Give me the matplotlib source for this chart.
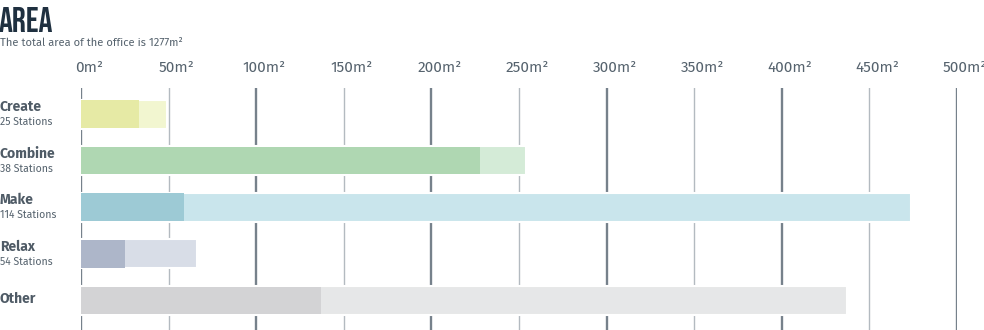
import matplotlib
matplotlib.use("Agg")
import matplotlib.pyplot as plt
from matplotlib import font_manager
import matplotlib.transforms as mtransforms

categories = ["Create", "Combine", "Make", "Relax", "Other"]
stations = ["25 Stations", "38 Stations", "114 Stations", "54 Stations", ""]
used_area = [33, 228, 59, 25, 137]
total_area = [49, 254, 474, 66, 437]
ticks = [0, 50, 100, 150, 200, 250, 300, 350, 400, 450, 500]
tick_labels = [f"{t}m\u00b2" for t in ticks]

dark_colors = ["#e6eaa5", "#afd7b2", "#9dcad5", "#adb6c9", "#d3d3d5"]
light_colors = ["#f2f6d0", "#d4ebd7", "#c9e5ec", "#d8dde7", "#e6e7e8"]

fonts = font_manager.fontManager.ttflist
names = {f.name for f in fonts}
body_font = "Fira Sans" if "Fira Sans" in names else "Open Sans"

title_font = "DejaVu Sans"
title_stretch = "condensed"
for cand in ["Bebas Neue", "Oswald", "Fira Sans Extra Condensed", "Fira Sans Condensed",
             "Roboto Condensed", "Liberation Sans Narrow", "Open Sans Condensed",
             "Noto Sans Display"]:
    if cand in names:
        title_font = cand
        title_stretch = "normal"
        break
else:
    for f in fonts:
        if "ondensed" in f.name or "arrow" in f.name:
            title_font = f.name
            title_stretch = "normal"
            break

W, H = 984, 330
fig = plt.figure(figsize=(W / 100, H / 100), dpi=100)
x0, x1 = 81, 957
ytop, ybot = 88, 330
ax = fig.add_axes([x0 / W, 1 - ybot / H, (x1 - x0) / W, (ybot - ytop) / H])

step = 46.6
c0 = 114
ax.set_xlim(0, 500)
ax.set_ylim((ybot - c0) / step, (ytop - c0) / step)
for s in ax.spines.values():
    s.set_visible(False)
ax.set_xticks([])
ax.set_yticks([])

for t in ticks:
    major = (t % 100 == 0)
    ax.axvline(t, color="#76818b" if major else "#b3bac0",
               lw=1.7 if major else 1.0, zorder=1)

ypos = list(range(len(categories)))
bh = 29 / step
ax.barh(ypos, total_area, height=bh, color=light_colors,
        edgecolor="white", linewidth=1.5, zorder=2)
ax.barh(ypos, used_area, height=bh - 0.03, color=dark_colors,
        linewidth=0, zorder=3)

# tick labels on top
trans = mtransforms.blended_transform_factory(ax.transData, fig.transFigure)
for t, lab in zip(ticks, tick_labels):
    ax.text(t + 8 / 1.752, 1 - 68 / H, lab, transform=trans, ha="center",
            va="center", fontsize=11, color="#56636e", family=body_font,
            clip_on=False)

# row labels
for i, (cat, st) in enumerate(zip(categories, stations)):
    yc = c0 + i * step
    if st:
        fig.text(0, 1 - (yc - 7) / H, cat, ha="left", va="center",
                 fontsize=10, fontweight="bold", color="#4f5b66", family=body_font)
        fig.text(0, 1 - (yc + 8) / H, st, ha="left", va="center",
                 fontsize=7.5, color="#56636e", family=body_font)
    else:
        fig.text(0, 1 - (yc - 2) / H, cat, ha="left", va="center",
                 fontsize=10, fontweight="bold", color="#4f5b66", family=body_font)

fig.text(-0.001, 1 - 19 / H, "AREA", ha="left", va="center", fontsize=25,
         fontweight="bold", fontstretch=title_stretch, color="#1f3040",
         family=title_font)
fig.text(0, 1 - 43 / H, "The total area of the office is 1277m\u00b2", ha="left",
         va="center", fontsize=8, color="#56636e", family=body_font)

fig.savefig("out.png", dpi=100, facecolor="white")
